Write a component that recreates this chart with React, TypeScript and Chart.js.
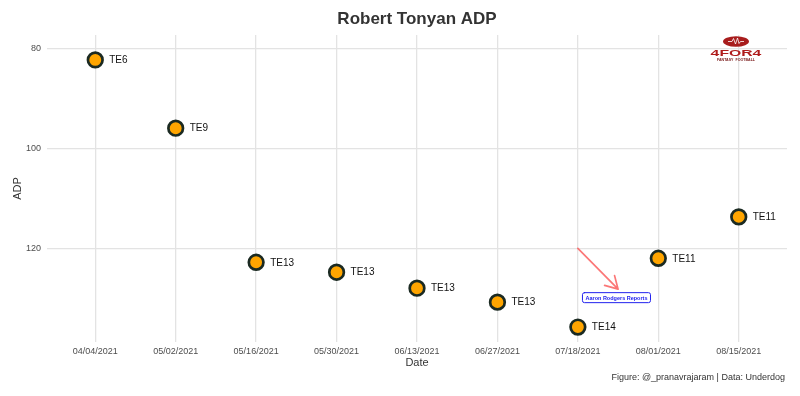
import { useEffect, useRef } from "react";
import { Chart, registerables } from "chart.js";
Chart.register(...registerables);

const dates = ["04/04/2021", "05/02/2021", "05/16/2021", "05/30/2021", "06/13/2021", "06/27/2021", "07/18/2021", "08/01/2021", "08/15/2021"];
const adp = [82.2, 95.9, 122.8, 124.8, 128.0, 130.8, 135.8, 122.0, 113.7];
const ranks = ["TE6", "TE9", "TE13", "TE13", "TE13", "TE13", "TE14", "TE11", "TE11"];
const yTicks = [80, 100, 120];
const yMin = 77.2;
const yMax = 138.8;
const xMin = -0.6;
const xMax = 8.6;
const titleText = "Robert Tonyan ADP";
const xTitle = "Date";
const yTitle = "ADP";
const captionText = "Figure: @_pranavrajaram | Data: Underdog";
const noteText = "Aaron Rodgers Reports";
const arrowFrom = [6, 120];
const arrowTo = [6.5, 128.2];
const notePos = [6.48, 129.9];

const FONT = "'Liberation Sans', Arial, Helvetica, sans-serif";

const overlay = {
  id: "overlay",
  beforeDatasetsDraw(chart: any) {
    const ctx = chart.ctx;
    const xs = chart.scales.x;
    const ys = chart.scales.y;
    // arrow
    const x1 = xs.getPixelForValue(arrowFrom[0]);
    const y1 = ys.getPixelForValue(arrowFrom[1]);
    const x2 = xs.getPixelForValue(arrowTo[0]);
    const y2 = ys.getPixelForValue(arrowTo[1]);
    ctx.save();
    ctx.strokeStyle = "rgba(250,95,95,0.85)";
    ctx.lineWidth = 1.7;
    ctx.lineCap = "round";
    ctx.lineJoin = "round";
    ctx.beginPath();
    ctx.moveTo(x1, y1);
    ctx.lineTo(x2, y2);
    const ang = Math.atan2(y2 - y1, x2 - x1);
    const L = 14;
    const a = Math.PI / 6;
    ctx.moveTo(x2 - L * Math.cos(ang - a), y2 - L * Math.sin(ang - a));
    ctx.lineTo(x2, y2);
    ctx.lineTo(x2 - L * Math.cos(ang + a), y2 - L * Math.sin(ang + a));
    ctx.stroke();
    // note box
    const nx = xs.getPixelForValue(notePos[0]);
    const ny = ys.getPixelForValue(notePos[1]);
    ctx.font = `bold 5.5px ${FONT}`;
    const tw = ctx.measureText(noteText).width;
    const bw = tw + 6;
    const bh = 10;
    ctx.fillStyle = "#ffffff";
    ctx.strokeStyle = "#2222ee";
    ctx.lineWidth = 1;
    ctx.beginPath();
    (ctx as any).roundRect(nx - bw / 2, ny - bh / 2, bw, bh, 2);
    ctx.fill();
    ctx.stroke();
    ctx.fillStyle = "#1a1aee";
    ctx.textAlign = "center";
    ctx.textBaseline = "middle";
    ctx.fillText(noteText, nx, ny + 0.5);
    ctx.restore();
  },
  afterDatasetsDraw(chart: any) {
    const ctx = chart.ctx;
    const meta = chart.getDatasetMeta(0);
    ctx.save();
    ctx.font = `10px ${FONT}`;
    ctx.fillStyle = "#111111";
    ctx.textAlign = "left";
    ctx.textBaseline = "middle";
    meta.data.forEach((pt: any, i: number) => {
      ctx.fillText(ranks[i], pt.x + 14, pt.y + 0.5);
    });
    ctx.restore();
  },
  afterDraw(chart: any) {
    const ctx = chart.ctx;
    const area = chart.chartArea;
    const cx = (area.left + area.right) / 2;
    const cy = (area.top + area.bottom) / 2;
    ctx.save();
    // title
    ctx.fillStyle = "#333333";
    ctx.font = `bold 17px ${FONT}`;
    ctx.textAlign = "center";
    ctx.textBaseline = "middle";
    ctx.fillText(titleText, cx, 19);
    // x title
    ctx.font = `11px ${FONT}`;
    ctx.fillStyle = "#333333";
    ctx.fillText(xTitle, cx, 363);
    // y title
    ctx.save();
    ctx.translate(18, cy);
    ctx.rotate(-Math.PI / 2);
    ctx.fillText(yTitle, 0, 0);
    ctx.restore();
    // caption
    ctx.font = `9px ${FONT}`;
    ctx.textAlign = "right";
    ctx.fillStyle = "#333333";
    ctx.fillText(captionText, 785, 378);
    // logo
    const lx = 736;
    ctx.fillStyle = "#a81d1d";
    ctx.beginPath();
    ctx.ellipse(lx, 41.5, 13, 5.2, 0, 0, Math.PI * 2);
    ctx.fill();
    ctx.strokeStyle = "#ffffff";
    ctx.lineWidth = 0.8;
    ctx.beginPath();
    ctx.moveTo(lx - 8, 41.5);
    ctx.lineTo(lx - 4, 41.5);
    ctx.lineTo(lx - 2.5, 38.5);
    ctx.lineTo(lx - 0.5, 44);
    ctx.lineTo(lx + 1.5, 38);
    ctx.lineTo(lx + 3, 43.5);
    ctx.lineTo(lx + 4.5, 41.5);
    ctx.lineTo(lx + 8, 41.5);
    ctx.stroke();
    ctx.save();
    ctx.translate(lx, 54);
    ctx.scale(1.75, 1);
    ctx.font = `bold 9px ${FONT}`;
    ctx.fillStyle = "#b01c1c";
    ctx.textAlign = "center";
    ctx.textBaseline = "middle";
    ctx.fillText("4FOR4", 0, 0);
    ctx.restore();
    ctx.font = `bold 3.6px ${FONT}`;
    ctx.fillStyle = "#7a1a1a";
    ctx.textAlign = "center";
    ctx.textBaseline = "middle";
    ctx.fillText("FANTASY  FOOTBALL", lx, 59.5);
    ctx.restore();
  },
};

export default function App() {
  const ref = useRef<HTMLCanvasElement | null>(null);
  useEffect(() => {
    document.body.style.margin = "0";
    const canvas = ref.current!;
    const chart = new Chart(canvas, {
      type: "scatter",
      data: {
        datasets: [
          {
            data: adp.map((v, i) => ({ x: i, y: v })),
            backgroundColor: "#FFA500",
            borderColor: "#1b2a22",
            borderWidth: 2.7,
            pointRadius: 7.3,
            pointHoverRadius: 7.3,
          },
        ],
      },
      options: {
        animation: false,
        responsive: false,
        maintainAspectRatio: false,
        layout: { padding: { left: 0, right: 13, top: 35, bottom: 0 } },
        plugins: { legend: { display: false }, title: { display: false }, tooltip: { enabled: false } },
        scales: {
          x: {
            type: "linear",
            min: xMin,
            max: xMax,
            afterBuildTicks: (s: any) => {
              s.ticks = dates.map((_, i) => ({ value: i }));
            },
            afterFit: (s: any) => {
              s.height = 54;
            },
            grid: { color: "#e3e3e3", lineWidth: 1.3, drawTicks: false },
            border: { display: false },
            ticks: {
              callback: (v: any) => dates[v] ?? "",
              color: "#4d4d4d",
              font: { size: 9, family: FONT },
              padding: 4,
              maxRotation: 0,
              autoSkip: false,
            },
          },
          y: {
            type: "linear",
            reverse: true,
            min: yMin,
            max: yMax,
            afterBuildTicks: (s: any) => {
              s.ticks = yTicks.map((v) => ({ value: v }));
            },
            afterFit: (s: any) => {
              s.width = 47;
            },
            grid: { color: "#e3e3e3", lineWidth: 1.3, drawTicks: false },
            border: { display: false },
            ticks: {
              color: "#4d4d4d",
              font: { size: 9, family: FONT },
              padding: 6,
            },
          },
        },
      },
      plugins: [overlay],
    } as any);
    return () => chart.destroy();
  }, []);
  return (
    <div style={{ position: "absolute", left: 0, top: 0, width: 800, height: 396 }}>
      <canvas ref={ref} width={800} height={396} style={{ width: 800, height: 396 }} />
    </div>
  );
}
